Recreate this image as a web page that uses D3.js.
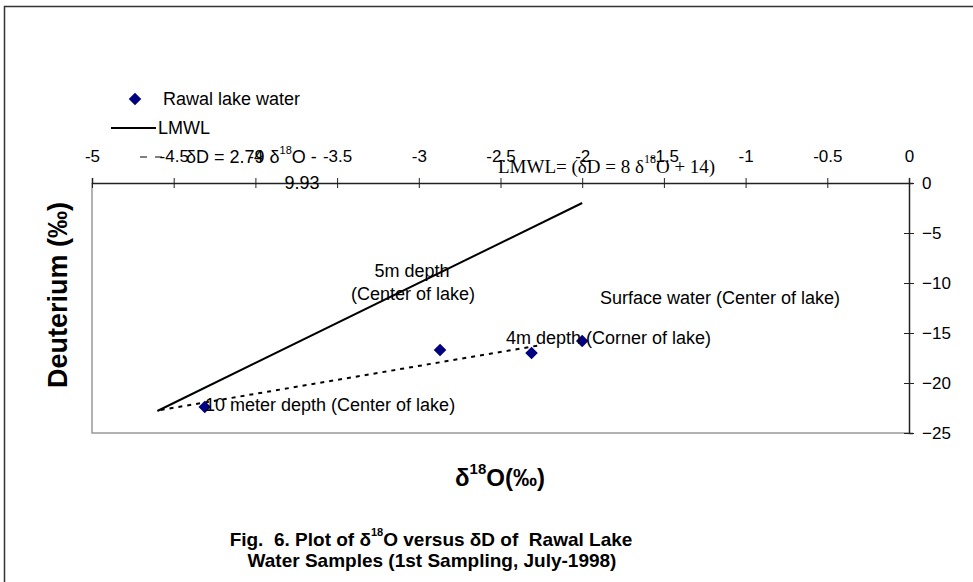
<!DOCTYPE html>
<html>
<head>
<meta charset="utf-8">
<script src="https://cdn.jsdelivr.net/npm/d3@7/dist/d3.min.js"></script>
<style>
  body { margin: 0; background: #fff; }
  svg { display: block; font-family: "Liberation Sans", Arial, sans-serif; }
</style>
</head>
<body>
<div id="content"></div>
<script>
// datos
const samples = ['10 meter depth', '5m depth', '4m depth', 'Surface water'];
const d18O = [-4.31, -2.87, -2.31, -2.0];
const dD = [-22.4, -16.7, -17.0, -15.8];

// extremos de las rectas
const lmwlX = [-4.6, -2.0];
const lmwlY = [-22.8, -2.0];
const trendX = [-4.58, -2.25];
const trendY = [-22.7, -16.2];

const xTicks = [-5, -4.5, -4, -3.5, -3, -2.5, -2, -1.5, -1, -0.5, 0];
const yTicks = [0, -5, -10, -15, -20, -25];

const width = 973, height = 582;
const plotLeft = 92, plotRight = 909, plotTop = 183, plotBottom = 433;
const sans = '"Liberation Sans", Arial, sans-serif';

const svg = d3.select('#content')
    .append('svg')
    .attr('width', width)
    .attr('height', height);

// marco exterior
svg.append('path')
    .attr('d', `M4.5,${height} V6.5 H${width}`)
    .attr('fill', 'none')
    .attr('stroke', '#333')
    .attr('stroke-width', 1.5);

const xScale = d3.scaleLinear().domain([-5, 0]).range([plotLeft, plotRight]);
const yScale = d3.scaleLinear().domain([-25, 0]).range([plotBottom, plotTop]);

// borde del area del grafico
svg.append('path')
    .attr('d', `M${plotLeft},${plotTop} V${plotBottom} H${plotRight}`)
    .attr('fill', 'none')
    .attr('stroke', '#999')
    .attr('stroke-width', 1.5);

// Eje X arriba
const xAxis = svg.append('g')
    .attr('transform', `translate(0, ${plotTop})`)
    .call(d3.axisTop(xScale).tickValues(xTicks).tickSize(5).tickFormat(d => d));
xAxis.select('.domain').attr('stroke', '#222').attr('stroke-width', 1.5);
xAxis.selectAll('.tick line').attr('y1', 5).attr('y2', -5).attr('stroke', '#222');
xAxis.selectAll('.tick text')
    .attr('y', -21).attr('dy', 0)
    .attr('fill', '#000')
    .style('font-size', '17px')
    .style('font-family', sans);

// Eje Y a la derecha
const yAxis = svg.append('g')
    .attr('transform', `translate(${plotRight}, 0)`)
    .call(d3.axisRight(yScale).tickValues(yTicks).tickSize(4).tickPadding(9));
yAxis.select('.domain').attr('stroke', '#222').attr('stroke-width', 1.5);
yAxis.selectAll('.tick line').attr('x1', -5).attr('x2', 5).attr('stroke', '#222');
yAxis.selectAll('.tick text')
    .attr('fill', '#000')
    .style('font-size', '17px')
    .style('font-family', sans);

// LMWL
svg.append('line')
    .attr('x1', xScale(lmwlX[0])).attr('y1', yScale(lmwlY[0]))
    .attr('x2', xScale(lmwlX[1])).attr('y2', yScale(lmwlY[1]))
    .attr('stroke', '#000')
    .attr('stroke-width', 2);

// linea de tendencia
svg.append('line')
    .attr('x1', xScale(trendX[0])).attr('y1', yScale(trendY[0]))
    .attr('x2', xScale(trendX[1])).attr('y2', yScale(trendY[1]))
    .attr('stroke', '#000')
    .attr('stroke-width', 2)
    .attr('stroke-dasharray', '4,5');

// puntos
const diamond = d3.symbol().type(d3.symbolDiamond2).size(100);
svg.selectAll('.pt')
    .data(d18O)
    .enter()
    .append('path')
    .attr('class', 'pt')
    .attr('d', diamond)
    .attr('transform', (d, i) => `translate(${xScale(d)}, ${yScale(dD[i])})`)
    .attr('fill', '#000080');

const addText = (x, y, txt, opts = {}) => svg.append('text')
    .attr('x', x).attr('y', y)
    .attr('text-anchor', opts.anchor || 'start')
    .attr('dominant-baseline', 'central')
    .style('font-size', (opts.size || 18) + 'px')
    .style('font-weight', opts.bold ? 'bold' : 'normal')
    .style('font-family', opts.family || sans)
    .style('white-space', 'pre')
    .text(txt);

// leyenda
svg.append('path')
    .attr('d', diamond)
    .attr('transform', 'translate(135, 99)')
    .attr('fill', '#000080');
addText(163, 99, 'Rawal lake water');
svg.append('line')
    .attr('x1', 111).attr('x2', 156).attr('y1', 128).attr('y2', 128)
    .attr('stroke', '#000').attr('stroke-width', 2);
addText(158, 128, 'LMWL');
svg.append('line')
    .attr('x1', 140).attr('x2', 163).attr('y1', 157).attr('y2', 157)
    .attr('stroke', '#000').attr('stroke-width', 1.2)
    .attr('stroke-dasharray', '7,8');

// ecuacion de la tendencia
const eq = addText(186, 157, 'δD = 2.79 δ');
eq.append('tspan').attr('dy', -7).style('font-size', '11px').text('18');
eq.append('tspan').attr('dy', 7).text('O -');
addText(302, 183, '9.93', { anchor: 'middle' });

// ecuacion LMWL
const lm = addText(498, 166, 'LMWL= (δD = 8 δ', { family: '"Liberation Serif", "Times New Roman", serif', size: 19 });
lm.append('tspan').attr('dy', -7).style('font-size', '12px').text('18');
lm.append('tspan').attr('dy', 7).text('O + 14)');

// etiquetas de las muestras
addText(412, 271, '5m depth', { anchor: 'middle' });
addText(413, 294, '(Center of lake)', { anchor: 'middle' });
addText(600, 298, 'Surface water (Center of lake)');
addText(506, 338, '4m depth (Corner of lake)');
addText(205, 405, '10 meter depth (Center of lake)');

// titulos de ejes
svg.append('text')
    .attr('transform', 'translate(58, 295) rotate(-90)')
    .attr('text-anchor', 'middle')
    .attr('dominant-baseline', 'central')
    .style('font-size', '27px')
    .style('font-weight', 'bold')
    .text('Deuterium (‰)');

const xt = svg.append('text')
    .attr('x', 500).attr('y', 477)
    .attr('text-anchor', 'middle')
    .attr('dominant-baseline', 'central')
    .style('font-size', '24px')
    .style('font-weight', 'bold')
    .text('δ');
xt.append('tspan').attr('dy', -9).style('font-size', '15px').text('18');
xt.append('tspan').attr('dy', 9).text('O(‰)');

// pie de figura
const cap = addText(431, 539, 'Fig.  6. Plot of δ', { anchor: 'middle', bold: true, size: 19 });
cap.append('tspan').attr('dy', -7).style('font-size', '11px').text('18');
cap.append('tspan').attr('dy', 7).text('O versus δD of  Rawal Lake');
addText(432, 560, 'Water Samples (1st Sampling, July-1998)', { anchor: 'middle', bold: true, size: 19 });
</script>
</body>
</html>
